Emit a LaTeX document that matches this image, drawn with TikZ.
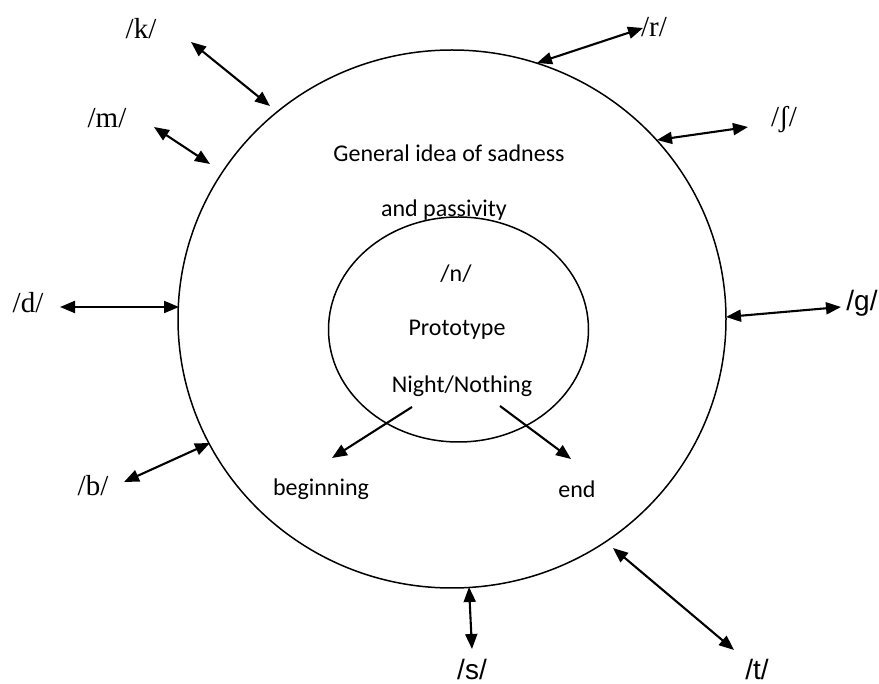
\documentclass[tikz,border=0pt]{standalone}
\usepackage{fontspec}
\setmainfont{Liberation Serif}
\newfontfamily\calfont{Carlito}
\newfontfamily\arialfont{Liberation Sans}
\usetikzlibrary{shapes.geometric,arrows.meta}
\begin{document}
\begin{tikzpicture}[x=1pt,y=-1pt,
  ring/.style={draw, ellipse, line width=1.5pt, inner sep=0pt},
  dbl/.style={line width=2.1pt, {Triangle[length=15pt,width=12pt]}-{Triangle[length=15pt,width=12pt]}},
  one/.style={line width=2.1pt, -{Triangle[length=15pt,width=12pt]}},
  inner text/.style={font=\calfont\fontsize{24}{27}\selectfont, inner sep=0pt},
  serif lbl/.style={font=\fontsize{29}{32}\selectfont, inner sep=0pt},
  sans lbl/.style={font=\arialfont\fontsize{28}{30}\selectfont, inner sep=0pt}]
\useasboundingbox (0,0) rectangle (879,684);
\fill[white] (0,0) rectangle (879,684);
% ellipses
\node[ring, minimum width=548pt, minimum height=538pt] (outer) at (452,319) {};
\node[ring, minimum width=260pt, minimum height=225pt] (inner) at (458.5,329.5) {};
% inner texts
\node[inner text] (gen) at (449,153) {General idea of sadness};
\node[inner text] (pass) at (444,210) {and passivity};
\node[inner text] (n) at (456,274) {/n/};
\node[inner text] (proto) at (457,330) {Prototype};
\node[inner text] (night) at (462,386) {Night/Nothing};
\node[inner text] (beg) at (321,489) {beginning};
\node[inner text] (end) at (577,489) {end};
% phoneme labels
\node[serif lbl] (k) at (141,29) {/k/};
\node[serif lbl] (m) at (107,118) {/m/};
\node[serif lbl] (r) at (654,27) {/r/};
\node[serif lbl] (sh) at (784,120) {/ʃ/};
\node[serif lbl] (d) at (28,303) {/d/};
\node[sans lbl] (g) at (862,303) {/g/};
\node[serif lbl] (b) at (93,486) {/b/};
\node[sans lbl] (s) at (472,669) {/s/};
\node[sans lbl] (t) at (757,669) {/t/};
% arrow end points
\coordinate (k1) at (191,42);  \coordinate (k2) at (270,106);
\coordinate (m1) at (154,127); \coordinate (m2) at (210,164);
\coordinate (r1) at (537,63);  \coordinate (r2) at (643,28);
\coordinate (sh1) at (657,140); \coordinate (sh2) at (748,127);
\coordinate (d1) at (60,307);  \coordinate (d2) at (179,307);
\coordinate (g1) at (726,317); \coordinate (g2) at (841,307);
\coordinate (b1) at (124,482); \coordinate (b2) at (210,443);
\coordinate (s1) at (469,587); \coordinate (s2) at (472,649);
\coordinate (t1) at (613,548); \coordinate (t2) at (734,650);
\coordinate (nb1) at (412,407); \coordinate (nb2) at (332,458);
\coordinate (ne1) at (500,406); \coordinate (ne2) at (571,459);
% arrows
\draw[dbl] (k1) -- (k2);
\draw[dbl] (m1) -- (m2);
\draw[dbl] (r1) -- (r2);
\draw[dbl] (sh1) -- (sh2);
\draw[dbl] (d1) -- (d2);
\draw[dbl] (g1) -- (g2);
\draw[dbl] (b1) -- (b2);
\draw[dbl] (s1) -- (s2);
\draw[dbl] (t1) -- (t2);
\draw[one] (nb1) -- (nb2);
\draw[one] (ne1) -- (ne2);
\end{tikzpicture}
\end{document}
